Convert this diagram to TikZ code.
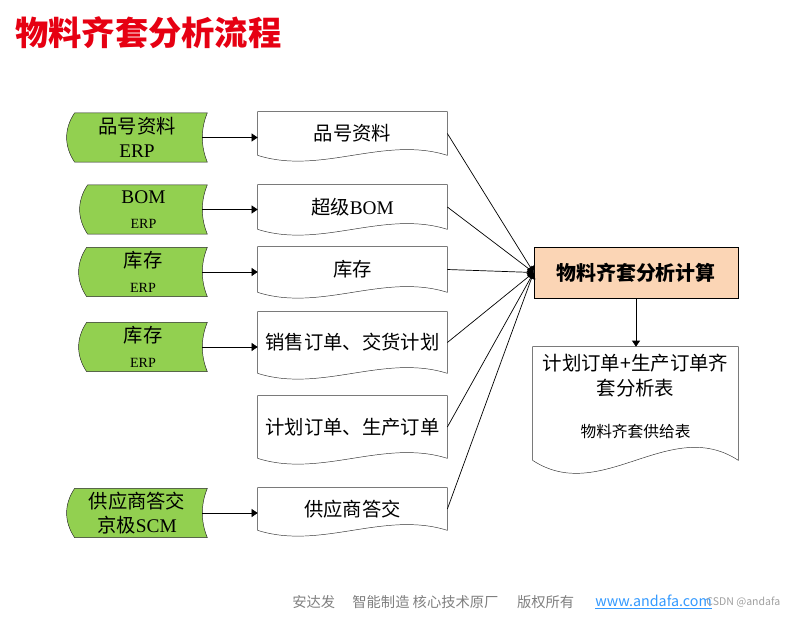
\documentclass[tikz,border=0pt]{standalone}
\usepackage{fontspec}
\setmainfont{Liberation Serif}
\newfontfamily\cjk{Noto Sans CJK SC}
\usetikzlibrary{arrows.meta,positioning,calc,backgrounds}
\definecolor{srcgreen}{HTML}{92D050}
\definecolor{calcorange}{HTML}{FBD5B5}
\definecolor{titlered}{HTML}{E60012}
\definecolor{footgray}{HTML}{7F7F7F}
\definecolor{linkblue}{HTML}{3399FF}

\begin{document}
\begin{tikzpicture}[x=0.03cm, y=-0.03cm, line width=0.6pt,
  >={Triangle[length=1.8mm,width=2.4mm]},
  src/.style={minimum height=1.46cm, inner sep=0pt, align=center, font=\fontsize{16.5}{21}\selectfont},
  doc/.style={minimum width=5.67cm, inner sep=0pt, align=center, font=\cjk\fontsize{16.5}{20}\selectfont},
  calcbox/.style={draw, fill=calcorange, minimum width=6.12cm, minimum height=1.53cm, font=\cjk\bfseries\fontsize{17}{20}\selectfont},
  feed/.style={->, shorten <=-1.5mm}]
\useasboundingbox (0,0) rectangle (786,616);

\node[anchor=west, inner sep=0pt, text=titlered, font=\cjk\bfseries\fontsize{28.4}{34}\selectfont] (title) at (15,33) {物料齐套分析流程};

% sources
\node[src, minimum width=4.2cm] (erp1) at (137,137.5) {{\cjk 品号资料}\\[-1pt]ERP};
\node[src, minimum width=3.81cm] (erp2) at (143.5,209.5) {BOM\\{\fontsize{12}{14}\selectfont ERP}};
\node[src, minimum width=3.84cm] (erp3) at (143,272) {{\cjk 库存}\\{\fontsize{12}{14}\selectfont ERP}};
\node[src, minimum width=3.84cm] (erp4) at (143,347) {{\cjk 库存}\\{\fontsize{12}{14}\selectfont ERP}};
\node[src, minimum width=4.2cm] (scm) at (137,513) {{\cjk 供应商答交}\\{\cjk 京极}SCM};

% documents
\node[doc, minimum height=1.29cm] (doc1) at (352.5,133.5) {品号资料};
\node[doc, minimum height=1.32cm] (doc2) at (352.5,207) {超级{\rmfamily BOM}};
\node[doc, minimum height=1.35cm] (doc3) at (352.5,269.5) {库存};
\node[doc, minimum height=1.83cm] (doc4) at (352.5,342.5) {销售订单、交货计划};
\node[doc, minimum height=1.86cm] (doc5) at (352.5,427) {计划订单、生产订单};
\node[doc, minimum height=1.26cm] (doc6) at (352.5,509) {供应商答交};

\node[calcbox] (calc) at (636,272.5) {物料齐套分析计算};
\node[inner sep=0pt] (table) at (635.5,403.5) {\parbox[c][3.39cm][t]{6.15cm}{\centering\cjk\fontsize{16.6}{21.3}\selectfont
  \vspace*{0.2cm}计划订单+生产订单齐\\套分析表\par\vspace{0.72cm}
  {\fontsize{13.4}{16}\selectfont 物料齐套供给表\par}}};

\node[anchor=west, inner sep=0pt, text=footgray, font=\cjk\fontsize{12.2}{14}\selectfont] (foot) at (292,602) {安达发\hspace{1.2em}智能制造 核心技术原厂\hspace{1.3em}版权所有};
\node[anchor=west, inner sep=0pt, text=linkblue, font=\cjk\fontsize{12.2}{14}\selectfont] (link) at (595,602) {\underline{www.andafa.com}};
\node[anchor=west, inner sep=0pt, text=gray!75, font=\cjk\fontsize{9}{11}\selectfont] (csdn) at (706,602) {CSDN @andafa};

\begin{scope}[on background layer]
\foreach \n in {erp1,erp2,erp3,erp4,scm}
  \draw[fill=srcgreen, draw=black!85] ($(\n.north west)+(8,0)$) -- (\n.north east)
    .. controls ($(\n.north east)+(-6.7,16)$) and ($(\n.south east)+(-6.7,-16)$) .. (\n.south east)
    -- ($(\n.south west)+(8,0)$)
    .. controls ($(\n.south west)+(-2.7,-16)$) and ($(\n.north west)+(-2.7,16)$) .. cycle;
\foreach \n/\c in {doc1/20,doc2/20,doc3/20,doc4/20,doc5/20,doc6/20,table/45}
  \draw[fill=white, draw=black!80] (\n.south west) -- (\n.north west) -- (\n.north east) -- (\n.south east)
    .. controls ($(\n.south east)!1/3!(\n.south west)+(0,-\c)$) and ($(\n.south east)!2/3!(\n.south west)+(0,\c)$) .. cycle;
\end{scope}

\foreach \s/\d in {erp1/doc1,erp2/doc2,erp3/doc3,erp4/doc4,scm/doc6}
  \draw[feed] (\s.east) -- (\s.east -| \d.west);
\foreach \d in {doc1,doc2,doc3,doc4,doc5,doc6}
  \draw[->] (\d.east) -- (calc.west);
\draw[->] (calc.south) -- (calc.south |- table.north);
\end{tikzpicture}
\end{document}
